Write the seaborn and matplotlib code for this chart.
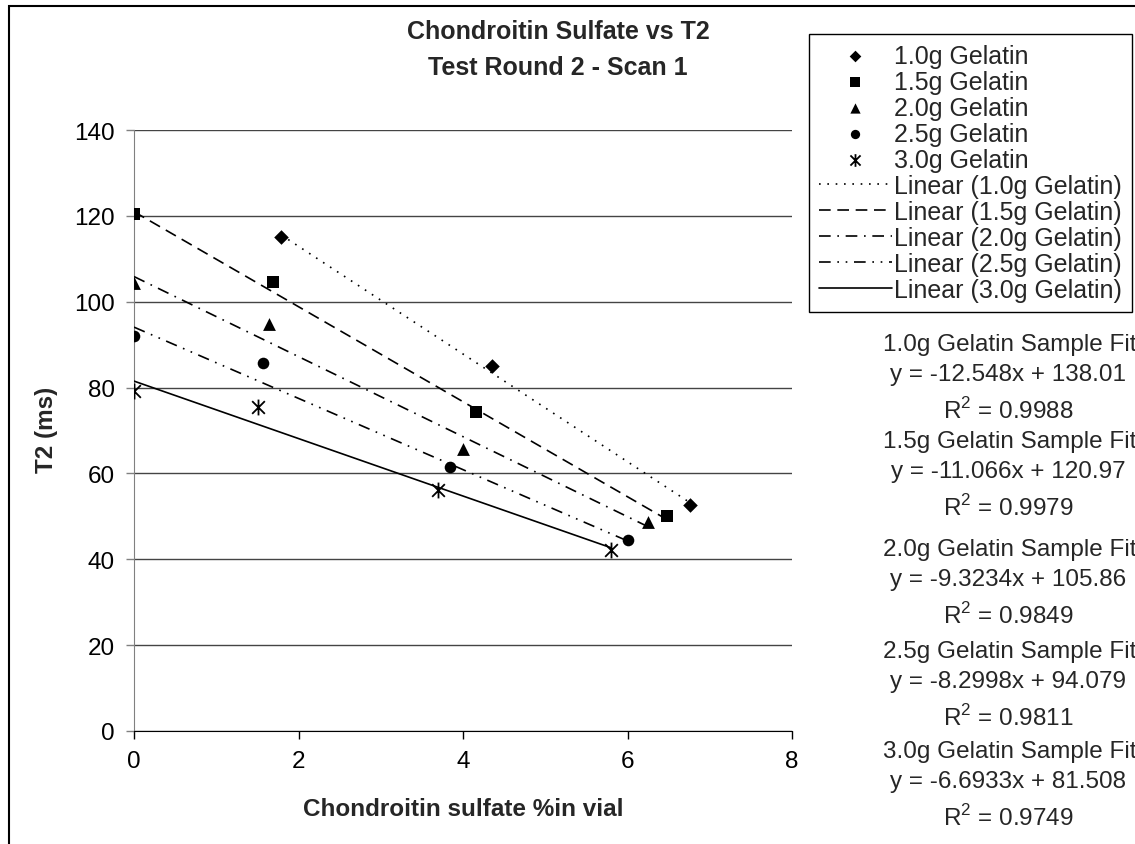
import numpy as np
import pandas as pd
import matplotlib
matplotlib.use("Agg")
import matplotlib.pyplot as plt
import seaborn as sns
from matplotlib.patches import Rectangle
from matplotlib.path import Path

# data
series = ["1.0g Gelatin", "1.5g Gelatin", "2.0g Gelatin", "2.5g Gelatin", "3.0g Gelatin"]
x_10 = [1.79, 4.35, 6.76]
y_10 = [115.0, 85.0, 52.6]
x_15 = [0.0, 1.69, 4.16, 6.48]
y_15 = [120.4, 104.6, 74.2, 50.1]
x_20 = [0.0, 1.64, 4.00, 6.25]
y_20 = [104.4, 94.8, 65.6, 48.8]
x_25 = [0.0, 1.57, 3.84, 6.01]
y_25 = [92.0, 85.7, 61.5, 44.5]
x_30 = [0.0, 1.51, 3.70, 5.80]
y_30 = [79.2, 75.5, 56.1, 42.2]

# trendline equations printed on the chart
slopes = [-12.548, -11.066, -9.3234, -8.2998, -6.6933]
intercepts = [138.01, 120.97, 105.86, 94.079, 81.508]
r_squared = ["0.9988", "0.9979", "0.9849", "0.9811", "0.9749"]

xs = [x_10, x_15, x_20, x_25, x_30]
ys = [y_10, y_15, y_20, y_25, y_30]

# excel style star: an X with a vertical bar through it
star = Path([(0, -1), (0, 1), (-0.8, -0.8), (0.8, 0.8), (-0.8, 0.8), (0.8, -0.8)],
            [Path.MOVETO, Path.LINETO, Path.MOVETO, Path.LINETO, Path.MOVETO, Path.LINETO])

markers = ["D", "s", "^", "o", star]
sizes = [55, 70, 85, 70, 130]
linestyles = [(0, (1, 4)), (0, (7, 4)), (0, (7, 4, 1, 4)), (0, (7, 4, 1, 4, 1, 4)), "-"]

sns.set_style("white")
plt.rcParams["font.family"] = ["Liberation Sans", "DejaVu Sans"]
plt.rcParams["mathtext.fontset"] = "custom"
plt.rcParams["mathtext.rm"] = "Liberation Sans"

fig = plt.figure(figsize=(11.35, 8.45), dpi=100)
ax = fig.add_axes([134 / 1135, 1 - 732 / 845, 658 / 1135, 601 / 845])

for i, name in enumerate(series):
    df = pd.DataFrame({"x": xs[i], "y": ys[i]})
    sns.scatterplot(data=df, x="x", y="y", marker=markers[i], s=sizes[i],
                    color="black", edgecolor="black",
                    linewidth=1.3 if i == 4 else 0, ax=ax, label=name, zorder=4)
for i, name in enumerate(series):
    lx = np.array([min(xs[i]), max(xs[i])])
    ly = slopes[i] * lx + intercepts[i]
    sns.lineplot(x=lx, y=ly, color="black", linewidth=1.2, linestyle=linestyles[i],
                 ax=ax, label="Linear (" + name + ")", zorder=3)

h, l = ax.get_legend_handles_labels()
order = [l.index(n) for n in series] + [l.index("Linear (" + n + ")") for n in series]
leg = ax.legend([h[k] for k in order], [l[k] for k in order],
                loc="upper left", bbox_to_anchor=(809 / 1135, 1 - 35 / 845),
                bbox_transform=fig.transFigure, borderaxespad=0,
                fontsize=18, frameon=True, fancybox=False, framealpha=1,
                edgecolor="black", handlelength=2.9, handletextpad=0.1,
                labelspacing=0.08, borderpad=0.4, markerscale=0.8)
leg.get_frame().set_linewidth(1.0)

ax.set_xlim(0, 8)
ax.set_ylim(0, 140)
ax.set_xticks([0, 2, 4, 6, 8])
ax.set_yticks(range(0, 141, 20))
ax.yaxis.grid(True, color="#444444", linewidth=1.0)
ax.xaxis.grid(False)
ax.set_axisbelow(True)
for s in ["top", "right"]:
    ax.spines[s].set_visible(False)
ax.spines["left"].set_color("#808080")
ax.spines["bottom"].set_color("black")
ax.tick_params(axis="both", labelsize=17.5, length=6, width=1, direction="out",
               left=True, bottom=True, pad=8, colors="black")
ax.tick_params(axis="y", color="#808080")
ax.set_xlabel("")
ax.set_ylabel("")

fig.text(463 / 1135, 1 - 810 / 845, "Chondroitin sulfate %in vial", ha="center", va="center",
         fontsize=17.5, fontweight="bold")
fig.text(47 / 1135, 1 - 430 / 845, "T2 (ms)", ha="center", va="center", rotation=90,
         fontsize=17.5, fontweight="bold")
fig.text(558 / 1135, 1 - 32 / 845, "Chondroitin Sulfate vs T2", ha="center", va="center",
         fontsize=18, fontweight="bold")
fig.text(558 / 1135, 1 - 68 / 845, "Test Round 2 - Scan 1", ha="center", va="center",
         fontsize=18, fontweight="bold")

# fit equations at the right, partly cut by the chart edge
fit_y = [345, 442, 550, 652, 752]
for i, name in enumerate(series):
    y0 = fit_y[i]
    sign = "-" if slopes[i] < 0 else ""
    fig.text(1010 / 1135, 1 - y0 / 845, name + " Sample Fit", ha="center", va="center",
             fontsize=17.5)
    fig.text(1008 / 1135, 1 - (y0 + 30) / 845,
             "y = " + sign + str(abs(slopes[i])) + "x + " + str(intercepts[i]),
             ha="center", va="center", fontsize=17.5)
    fig.text(1008 / 1135, 1 - (y0 + 66) / 845, "R$^{2}$ = " + r_squared[i],
             ha="center", va="center", fontsize=17.5)

fig.patches.append(Rectangle((9 / 1135, -0.1), 2, 1.1 - 6.5 / 845, fill=False,
                             edgecolor="black", linewidth=1.5, transform=fig.transFigure))

fig.savefig("out.png", dpi=100)
